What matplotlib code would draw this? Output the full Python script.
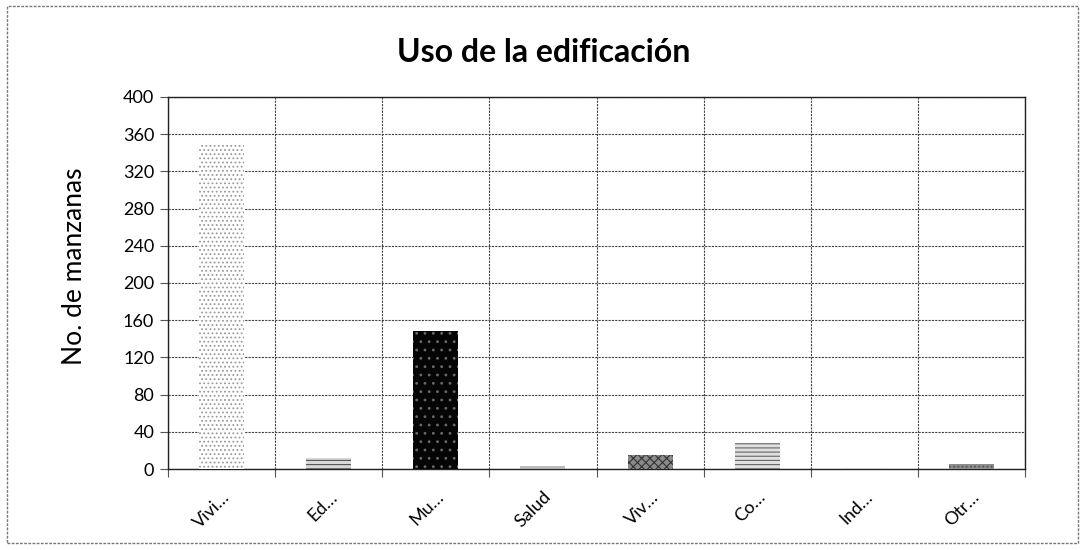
"""
Gráfico de barras: uso de la edificación por número de manzanas.
"""
import numpy as np
import matplotlib
matplotlib.use("Agg")
import matplotlib.pyplot as plt
from matplotlib.patches import Rectangle

# Datos
categorias = ["Vivi…", "Ed…", "Mu…", "Salud", "Viv…", "Co…", "Ind…", "Otr…"]
manzanas = [348, 12, 148, 3, 15, 28, 1.5, 6]
y_ticks = [0, 40, 80, 120, 160, 200, 240, 280, 320, 360, 400]

# Estilo de cada barra (relleno, trama, color de trama)
rellenos = ["white", "#d8d8d8", "#050505", "#bbbbbb", "#8a8a8a", "#e0e0e0", "#cfcfcf", "#8c8c8c"]
tramas = ["....", "----", "..", "---", "xxxx", "----", "---", "...."]
colores_trama = ["#9a9a9a", "#555555", "#6a6a6a", "#666666", "#333333", "#666666", "#888888", "#555555"]

plt.rcParams['font.family'] = ['Lato', 'DejaVu Sans']
plt.rcParams['hatch.linewidth'] = 0.8

fig = plt.figure(figsize=(10.87, 5.5), dpi=100)
ax = fig.add_axes([0.1546, 0.147, 0.7884, 0.677])

# Marco exterior del gráfico
fig.patches.append(Rectangle((0.006, 0.012), 0.986, 0.978, transform=fig.transFigure,
                             fill=False, edgecolor="#777777", linewidth=1.0,
                             linestyle=(0, (2, 1))))

x = np.arange(len(categorias))
for i, (v, fc, h, hc) in enumerate(zip(manzanas, rellenos, tramas, colores_trama)):
    ax.bar(x[i], v, width=0.42, color=fc, hatch=h, edgecolor=hc, linewidth=0, zorder=3)

ax.set_xlim(-0.5, len(categorias) - 0.5)
ax.set_ylim(0, 400)
ax.set_yticks(y_ticks)
ax.tick_params(axis='y', labelsize=13, length=6, width=0.8, color="#555555", pad=4)

# Etiquetas centradas, ticks y rejilla en los límites de categoría
ax.set_xticks(x)
ax.set_xticklabels(categorias, rotation=45, ha='right', rotation_mode='anchor', fontsize=13)
ax.set_xticks(np.arange(-0.5, len(categorias)), minor=True)
ax.tick_params(axis='x', which='major', length=0, pad=14)
ax.tick_params(axis='x', which='minor', length=6, width=0.8, color="#555555")

ax.grid(True, which='major', axis='y', color="#444444", linestyle=(0, (2, 1)), linewidth=0.8, zorder=0)
ax.grid(True, which='minor', axis='x', color="#444444", linestyle=(0, (2, 1)), linewidth=0.8, zorder=0)

for s in ax.spines.values():
    s.set_color("#222222")
    s.set_linewidth(1.0)

ax.set_ylabel("No. de manzanas", fontsize=19)
ax.yaxis.set_label_coords(-0.094, 0.545)
fig.suptitle("Uso de la edificación", x=0.5, y=0.93, fontsize=23, fontweight='bold')

fig.savefig("out.png", dpi=100)
plt.close(fig)
